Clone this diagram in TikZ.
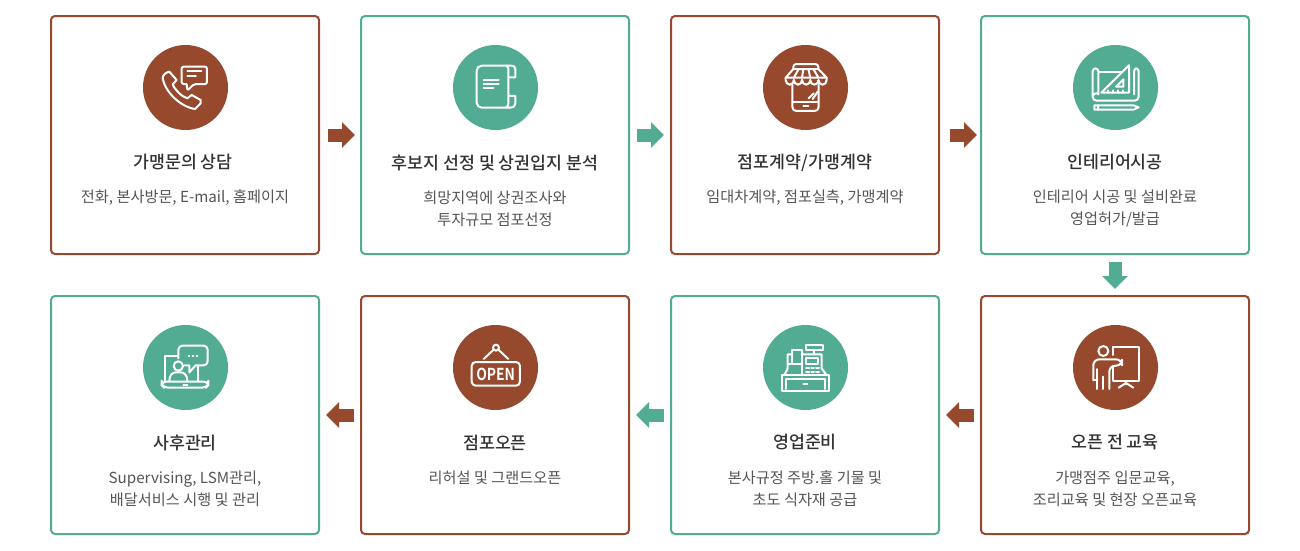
\documentclass[tikz,border=0pt]{standalone}
\usepackage{fontspec}
\setmainfont[BoldFont={Noto Sans CJK KR Medium}]{Noto Sans CJK KR}
\newfontfamily\signfont{Noto Sans CJK KR Bold}
\usetikzlibrary{arrows.meta}
\definecolor{mybrown}{RGB}{150, 73, 45}
\definecolor{myteal}{RGB}{82, 171, 147}
\definecolor{mytitle}{RGB}{51, 51, 51}
\definecolor{mybody}{RGB}{85, 85, 85}

\begin{document}
\begin{tikzpicture}[x=1pt,y=-1pt]

\tikzstyle{brownbox} = [draw=mybrown,line width=2pt,rounded corners=4pt,outer sep=0,
    minimum width=268pt,minimum height=238pt,fill=white]
\tikzstyle{tealbox} = [brownbox,draw=myteal]
\tikzstyle{browndot} = [circle,fill=mybrown,minimum size=85pt,inner sep=0,outer sep=0]
\tikzstyle{tealdot} = [browndot,fill=myteal]
\tikzstyle{headtext} = [text=mytitle,font=\fontsize{17.3}{20}\selectfont\bfseries,inner sep=0]
\tikzstyle{bodytext} = [text=mybody,font=\fontsize{15.2}{22}\selectfont,align=center,inner sep=0]
\tikzstyle{brownarrow} = [-{Triangle[length=13pt,width=25pt]},line width=13pt,draw=mybrown]
\tikzstyle{tealarrow} = [brownarrow,draw=myteal]
\tikzstyle{icon} = [draw=white,line width=2pt,line cap=round,line join=round]
\tikzstyle{iconzoom} = [x=0.3333pt,y=-0.3333pt]

\useasboundingbox (0,0) rectangle (1300,550);

% =========================
% first row
% =========================
\node[brownbox] (contact) at (185,135) {};
\node[browndot] (contactdot) at (185.5,87.5) {};
\node[headtext] (contacthead) at (183,162.5) {가맹문의 상담};
\node[bodytext] (contactbody) at (185,198) {전화, 본사방문, E-mail, 홈페이지};

\node[tealbox] (site) at (495,135) {};
\node[tealdot] (sitedot) at (495.5,87.5) {};
\node[headtext] (sitehead) at (495,162.5) {후보지 선정 및 상권입지 분석};
\node[bodytext] (sitebody) at (495,208.5) {희망지역에 상권조사와\\투자규모 점포선정};

\node[brownbox] (contract) at (805,135) {};
\node[browndot] (contractdot) at (805.5,87.5) {};
\node[headtext] (contracthead) at (805,162.5) {점포계약/가맹계약};
\node[bodytext] (contractbody) at (805,198) {임대차계약, 점포실측, 가맹계약};

\node[tealbox] (interior) at (1115,135) {};
\node[tealdot] (interiordot) at (1115.5,87.5) {};
\node[headtext] (interiorhead) at (1115,162.5) {인테리어시공};
\node[bodytext] (interiorbody) at (1115,208.5) {인테리어 시공 및 설비완료\\영업허가/발급};

% =========================
% second row
% =========================
\node[brownbox] (training) at (1115,415) {};
\node[browndot] (trainingdot) at (1115.5,367.5) {};
\node[headtext] (trainingehead) at (1115,442.5) {오픈 전 교육};
\node[bodytext] (trainingbody) at (1115,488.5) {가맹점주 입문교육,\\조리교육 및 현장 오픈교육};

\node[tealbox] (prepare) at (805,415) {};
\node[tealdot] (preparedot) at (805.5,367.5) {};
\node[headtext] (preparehead) at (805,442.5) {영업준비};
\node[bodytext] (preparebody) at (805,488.5) {본사규정 주방.홀 기물 및\\초도 식자재 공급};

\node[brownbox] (opening) at (495,415) {};
\node[browndot] (openingdot) at (495.5,367.5) {};
\node[headtext] (openinghead) at (495,442.5) {점포오픈};
\node[bodytext] (openingbody) at (495,478) {리허설 및 그랜드오픈};

\node[tealbox] (care) at (185,415) {};
\node[tealdot] (caredot) at (185.5,367.5) {};
\node[headtext] (carehead) at (185,442.5) {사후관리};
\node[bodytext] (carebody) at (185,488.5) {Supervising, LSM관리,\\배달서비스 시행 및 관리};

% =========================
% arrows
% =========================
\draw[brownarrow,shorten <=9pt,shorten >=6pt] (contact) -- (site);
\draw[tealarrow,shorten <=8pt,shorten >=7pt] (site.east) -- (contract.west);
\draw[brownarrow,shorten <=11pt,shorten >=4pt] (contract.east) -- (interior.west);
\draw[tealarrow,shorten <=8pt,shorten >=7pt] (interior.south) -- (training.north);
\draw[brownarrow,shorten <=7pt,shorten >=7pt] (training.west) -- (prepare.east);
\draw[tealarrow,shorten <=7pt,shorten >=7pt] (prepare.west) -- (opening.east);
\draw[brownarrow,shorten <=7pt,shorten >=7pt] (opening.west) -- (care.east);

% =========================
% icons
% =========================
% phone
\begin{scope}[shift={(130,35)},iconzoom]
\draw[icon] (98,130) .. controls (105,170) and (150,215) .. (195,222) -- (212,205) -- (212,195) -- (185,180)
    -- (172,190) .. controls (155,185) and (135,165) .. (128,148) -- (140,135) -- (118,110)
    .. controls (108,112) and (98,120) .. (98,130);
\draw[icon,rounded corners=2pt] (170,147) -- (155,147) -- (155,95) -- (231,95) -- (231,147) -- (192,147) -- (172,167) -- (170,147);
\draw[icon] (172,109) -- (214,109);
\draw[icon] (172,122) -- (198,122);
\end{scope}

% scroll
\begin{scope}[shift={(440,35)},iconzoom]
\draw[icon,rounded corners=5pt] (200,92) -- (110,92) -- (110,218) -- (198,218);
\draw[icon] (200,92) .. controls (208,96) and (205,105) .. (205,115) -- (205,200) .. controls (205,210) and (204,216) .. (198,218);
\draw[icon] (200,92) -- (215,92) .. controls (222,92) and (226,96) .. (226,103) -- (226,127) -- (205,127);
\draw[icon] (205,183) -- (226,183) -- (226,205) .. controls (226,213) and (220,218) .. (212,218) -- (198,218);
\draw[icon] (131,134) -- (176,134);
\draw[icon] (131,146) -- (176,146);
\draw[icon] (131,158) -- (160,158);
\end{scope}

% shop on a phone
\begin{scope}[shift={(750,35)},iconzoom]
\draw[icon,rounded corners=3pt] (130,102) -- (130,87) -- (205,87) -- (205,102);
\draw[icon] (130,102) -- (205,102) -- (230,128) -- (107,128) -- cycle;
\draw[icon] (107,128) -- (107,135) arc[start angle=180,end angle=0,x radius=12.3,y radius=14]
    arc[start angle=180,end angle=0,x radius=12.3,y radius=14]
    arc[start angle=180,end angle=0,x radius=12.3,y radius=14]
    arc[start angle=180,end angle=0,x radius=12.3,y radius=14]
    arc[start angle=180,end angle=0,x radius=12.3,y radius=14] -- (230,128);
\draw[icon] (146,102) -- (131.6,128);
\draw[icon] (160,102) -- (156,128);
\draw[icon] (175,102) -- (181,128);
\draw[icon] (190,102) -- (205.4,128);
\draw[icon,rounded corners=4pt] (127,150) -- (127,228) -- (206,228) -- (206,150);
\draw[icon] (127,200) -- (206,200);
\draw[icon] (160,213) -- (175,213);
\draw[icon] (176,190) -- (191,175);
\draw[icon] (188,192) -- (203,170);
\end{scope}

% blueprint
\begin{scope}[shift={(1060,35)},iconzoom]
\draw[icon,rounded corners=3pt] (98,185) -- (98,100) -- (115,100) -- (115,178);
\draw[icon] (98,185) .. controls (98,175) and (115,172) .. (115,178);
\draw[icon] (115,110) -- (185,110);
\draw[icon,rounded corners=3pt] (222,178) -- (222,100) -- (236,100) -- (236,185);
\draw[icon] (98,185) .. controls (98,192) and (103,197) .. (110,197) -- (224,197) .. controls (231,197) and (236,192) .. (236,185);
\draw[icon] (124,173) -- (207,91) -- (207,173) -- cycle;
\draw[icon] (168,155) -- (190,133) -- (190,155) -- cycle;
\draw[icon] (145,173) -- (145,166);
\draw[icon] (160,173) -- (160,166);
\draw[icon] (175,173) -- (175,166);
\draw[icon] (190,173) -- (190,166);
\draw[icon] (103,211) -- (220,211) -- (236,217) -- (220,224) -- (103,224) -- cycle;
\draw[icon] (115,211) -- (115,224);
\end{scope}

% teacher
\begin{scope}[shift={(1060,315)},iconzoom]
\draw[icon] (130,108) circle[radius=15];
\draw[icon] (158,120) -- (158,95) -- (238,95) -- (238,198) -- (158,198) -- (158,155);
\draw[icon] (198,198) -- (198,208);
\draw[icon] (176,218) -- (198,204) -- (220,218);
\draw[icon,rounded corners=4pt] (112,222) -- (112,162);
\draw[icon,rounded corners=6pt] (100,196) -- (100,133) -- (186,133) -- (186,152) -- (148,152) -- (148,222);
\draw[icon] (100,196) -- (112,196);
\draw[icon] (129,222) -- (129,185);
\end{scope}

% cash register
\begin{scope}[shift={(750,315)},iconzoom]
\draw[icon] (95,181) rectangle (237,227);
\draw[icon] (107,222) -- (107,193) -- (225,193) -- (225,222);
\draw[icon] (160,207) -- (172,207);
\draw[icon] (103,181) -- (113,160) -- (113,118) -- (127,118);
\draw[icon] (127,105) rectangle (155,148);
\draw[icon] (113,148) -- (127,148);
\draw[icon] (155,118) -- (215,118) -- (215,160) -- (230,181);
\draw[icon] (167,90) rectangle (220,105);
\draw[icon] (192,105) -- (192,118);
\draw[icon] (167,128) rectangle (205,148);
\draw[icon] (155,181) -- (155,148);
\draw[icon] (168,158) -- (178,158);
\draw[icon] (184,158) -- (192,158);
\draw[icon] (198,158) -- (207,158);
\draw[icon] (168,171) -- (178,171);
\draw[icon] (184,171) -- (192,171);
\draw[icon] (198,171) -- (207,171);
\end{scope}

% open sign
\begin{scope}[shift={(440,315)},iconzoom]
\draw[icon,rounded corners=4pt] (95,141) rectangle (240,212);
\draw[icon] (168,98) circle[radius=9];
\draw[icon] (131,132) -- (161,104);
\draw[icon] (205,132) -- (175,104);
\node[text=white,font=\fontsize{16.5}{16}\signfont,inner sep=0,xscale=0.84] (opensign) at (167,177) {OPEN};
\end{scope}

% laptop and person
\begin{scope}[shift={(130,315)},iconzoom]
\draw[icon] (105,198) -- (105,122) -- (143,122);
\draw[icon] (205,152) -- (205,198);
\draw[icon,rounded corners=4pt] (95,200) -- (235,200) -- (235,209) -- (228,218) -- (102,218) -- (95,209) -- cycle;
\draw[icon] (160,209) -- (172,209);
\draw[icon,rounded corners=4pt] (145,130) -- (145,92) -- (233,92) -- (233,151) -- (197,151);
\draw[icon] (164,151) -- (178,151) -- (178,172) -- (197,151);
\draw[icon] (176,122) -- (178,122);
\draw[icon] (188,122) -- (190,122);
\draw[icon] (200,122) -- (202,122);
\draw[icon] (145,153) circle[radius=14];
\draw[icon] (118,197) .. controls (118,180) and (128,172) .. (138,172) -- (152,172) .. controls (162,172) and (172,180) .. (172,197);
\end{scope}

\end{tikzpicture}
\end{document}
